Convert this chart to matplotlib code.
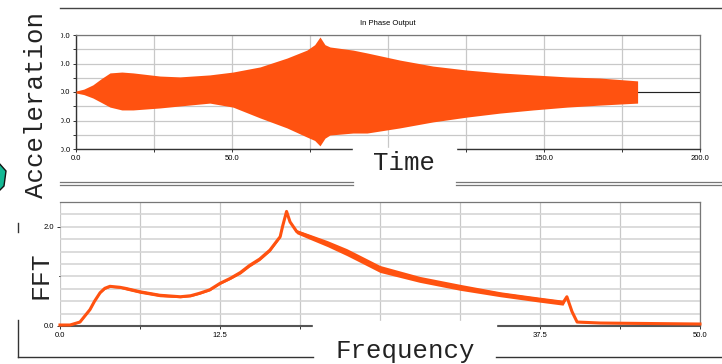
import matplotlib
matplotlib.use("Agg")
import matplotlib.pyplot as plt
from matplotlib.patches import Rectangle, Polygon
from matplotlib.ticker import MultipleLocator, FixedLocator, FixedFormatter

W, H = 722, 364
ORANGE = "#FF5210"

# ---- Data: acceleration envelope (time domain) ----
time_pts = [0, 2.5, 5.4, 8.0, 10.9, 14.7, 18.3, 26.9, 33.3, 42.9, 50.3, 59, 67.6, 74, 76.5, 78.2,
            79.8, 81.4, 88.8, 93.3, 103.8, 114.4, 125.3, 135.9, 146.5, 157.4, 167.9, 180]
accel_upper = [0.35, 1.0, 2.5, 4.6, 6.7, 7.0, 6.7, 5.6, 5.3, 6.0, 7.0, 8.8, 11.9, 14.7, 16.6, 19.3,
               16.6, 15.8, 14.7, 13.7, 11.2, 9.1, 7.7, 6.7, 6.0, 5.3, 4.9, 3.9]
accel_lower = [0.35, 0.9, 2.1, 3.6, 5.3, 6.3, 6.3, 5.6, 4.9, 3.9, 5.3, 9.1, 12.6, 15.8, 17.0, 18.9,
               16.2, 15.1, 14.4, 14.4, 12.6, 10.5, 8.8, 7.4, 6.3, 5.3, 4.6, 3.9]
time_end = 200

# ---- Data: FFT magnitude ----
freq = [0, 0.78, 1.56, 2.34, 2.7, 3.13, 3.5, 3.9, 4.69, 5.1, 6.25, 7.8, 9.4, 10.2, 10.9, 11.7,
        12.5, 13.3, 14.1, 14.8, 15.6, 16.4, 17.2, 17.4, 17.7, 17.97, 18.5, 19.5, 20.9, 22.4,
        23.4, 25.0, 28.1, 31.25, 34.4, 37.5, 39.3, 39.6, 40.0, 40.4, 42.2, 46.1, 50.0]
fft_mag = [0.02, 0.02, 0.08, 0.33, 0.50, 0.67, 0.76, 0.80, 0.78, 0.76, 0.69, 0.62, 0.59, 0.61,
           0.66, 0.73, 0.86, 0.96, 1.08, 1.22, 1.35, 1.53, 1.80, 2.02, 2.31, 2.10, 1.90, 1.80,
           1.66, 1.49, 1.36, 1.15, 0.94, 0.78, 0.64, 0.53, 0.47, 0.59, 0.29, 0.08, 0.06, 0.05,
           0.04]
# visible thickness (noise band half-width) of the FFT trace
fft_band = [0.01, 0.01, 0.01, 0.01, 0.01, 0.01, 0.02, 0.02, 0.02, 0.03, 0.03, 0.03, 0.02, 0.02,
            0.02, 0.02, 0.02, 0.02, 0.03, 0.03, 0.03, 0.03, 0.02, 0.01, 0.01, 0.02, 0.04, 0.05,
            0.06, 0.07, 0.07, 0.07, 0.06, 0.06, 0.05, 0.05, 0.05, 0.02, 0.02, 0.01, 0.01, 0.01,
            0.01]

top_xticks = [0, 50, 100, 150, 200]
top_xlabels = ["0.0", "50.0", "", "150.0", "200.0"]
top_yticks = [-20, -10, 0, 10, 20]
top_ylabels = ["-20.0", "-10.0", "0.0", "10.0", "20.0"]
bot_xticks = [0, 12.5, 25, 37.5, 50]
bot_xlabels = ["0.0", "12.5", "", "37.5", "50.0"]
bot_yticks = [0, 1, 2]
bot_ylabels = ["0.0", "", "2.0"]


def rect(l, t, r, b):
    return [l / W, 1 - b / H, (r - l) / W, (b - t) / H]


fig = plt.figure(figsize=(W / 100, H / 100), dpi=100)
fig.patch.set_facecolor("white")
plt.rcParams["font.family"] = ["Liberation Sans", "DejaVu Sans"]

# ---------- top axes ----------
ax1 = fig.add_axes(rect(76, 35, 700, 149))
ax1.set_xlim(0, 200)
ax1.set_ylim(-20, 20)
ax1.plot([0, time_end], [0, 0], color="#222222", lw=0.8, zorder=2)
ax1.fill_between(time_pts, [-v for v in accel_lower], accel_upper, color=ORANGE, lw=0, zorder=3)
ax1.xaxis.set_major_locator(FixedLocator(top_xticks))
ax1.xaxis.set_major_formatter(FixedFormatter(top_xlabels))
ax1.xaxis.set_minor_locator(MultipleLocator(25))
ax1.yaxis.set_major_locator(FixedLocator(top_yticks))
ax1.yaxis.set_major_formatter(FixedFormatter(top_ylabels))
ax1.yaxis.set_minor_locator(MultipleLocator(5))
ax1.grid(True, which="both", color="#c8c8c8", lw=0.9, zorder=0)
ax1.set_axisbelow(True)
ax1.tick_params(which="both", labelsize=5.5, length=2.5, width=0.7, color="#333333", pad=1.5)
for s in ["left", "bottom"]:
    ax1.spines[s].set_color("#333333")
    ax1.spines[s].set_linewidth(1.0)
for s in ["top", "right"]:
    ax1.spines[s].set_color("#777777")
    ax1.spines[s].set_linewidth(0.9)
ax1.set_title("In Phase Output", fontsize=5.5, pad=7, x=0.5)

# ---------- bottom axes ----------
ax2 = fig.add_axes(rect(60, 202, 700, 326))
ax2.set_xlim(0, 50)
ax2.set_ylim(0, 2.5)
ax2.fill_between(freq, [m - b for m, b in zip(fft_mag, fft_band)],
                 [m + b for m, b in zip(fft_mag, fft_band)], color=ORANGE, lw=0, zorder=3)
ax2.plot(freq, fft_mag, color=ORANGE, lw=2.2, solid_joinstyle="round", zorder=3, clip_on=False)
ax2.xaxis.set_major_locator(FixedLocator(bot_xticks))
ax2.xaxis.set_major_formatter(FixedFormatter(bot_xlabels))
ax2.xaxis.set_minor_locator(MultipleLocator(6.25))
ax2.yaxis.set_major_locator(FixedLocator(bot_yticks))
ax2.yaxis.set_major_formatter(FixedFormatter(bot_ylabels))
ax2.yaxis.set_minor_locator(MultipleLocator(0.25))
ax2.grid(True, which="both", axis="y", color="#d6d6d6", lw=1.2, zorder=0)
ax2.grid(True, which="both", axis="x", color="#c8c8c8", lw=0.9, zorder=0)
ax2.set_axisbelow(True)
ax2.tick_params(which="both", labelsize=5.5, length=2.5, width=0.7, color="#333333", pad=1.5)
ax2.tick_params(axis="y", which="minor", length=0)
ax2.spines["left"].set_visible(False)
ax2.spines["bottom"].set_color("#555555")
ax2.spines["bottom"].set_linewidth(1.5)
for s in ["top", "right"]:
    ax2.spines[s].set_color("#777777")
    ax2.spines[s].set_linewidth(0.9)

# ---------- overlay (frame lines, label boxes) ----------
ov = fig.add_axes([0, 0, 1, 1], zorder=10)
ov.set_xlim(0, W)
ov.set_ylim(H, 0)
ov.axis("off")
ov.patch.set_alpha(0)

# white boxes
ov.add_patch(Rectangle((14, 10), 46, 190, color="white", zorder=1))
ov.add_patch(Rectangle((353, 148), 103, 38, color="white", zorder=1))
ov.add_patch(Rectangle((10, 232), 48, 88, color="white", zorder=1))
ov.add_patch(Rectangle((313, 321), 183, 43, color="white", zorder=1))

# frame lines
ov.plot([60, 722], [8, 8], color="#444444", lw=1.0, zorder=2)
for yy in (182, 184.5):
    ov.plot([60, 353], [yy, yy], color="#777777", lw=0.9, zorder=2)
    ov.plot([456, 722], [yy, yy], color="#777777", lw=0.9, zorder=2)
ov.plot([18, 313], [357, 357], color="#333333", lw=1.0, zorder=2)
ov.plot([496, 722], [357, 357], color="#333333", lw=1.0, zorder=2)
ov.plot([18, 18], [320, 357], color="#333333", lw=1.0, zorder=2)
ov.plot([18, 18], [223, 232], color="#333333", lw=1.0, zorder=2)

# teal icon fragment
ov.add_patch(Polygon([(-2, 162), (6, 171), (4, 186), (-2, 192)], closed=True,
                     facecolor="#14b894", edgecolor="#111111", lw=1.0, zorder=3))

mono = ["Liberation Mono", "DejaVu Sans Mono"]
ov.text(36, 105, "Acceleration", rotation=90, fontsize=18.5, family=mono,
        ha="center", va="center", color="#222222", zorder=4)
ov.text(404, 163, "Time", fontsize=18.5, family=mono, ha="center", va="center",
        color="#222222", zorder=4)
ov.text(40, 275, "FFT", rotation=90, fontsize=19, family=mono, ha="center", va="center",
        color="#222222", zorder=4)
ov.text(405, 351, "Frequency", fontsize=18.5, family=mono, ha="center", va="center",
        color="#222222", zorder=4)

fig.savefig("out.png", dpi=100)
